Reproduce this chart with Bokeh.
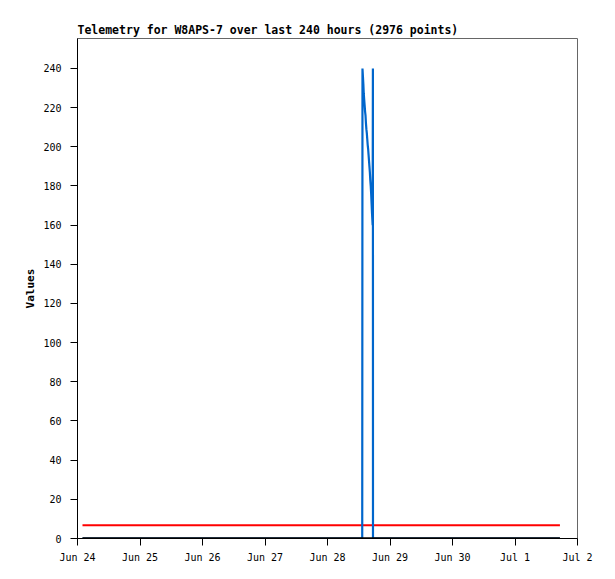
import pandas as pd
from bokeh.plotting import figure
from bokeh.models import Range1d, DaysTicker, DatetimeTickFormatter, SingleIntervalTicker
from bokeh.embed import file_html
from bokeh.resources import INLINE

# ---- data ----
title_text = "Telemetry for W8APS-7 over last 240 hours (2976 points)"
y_label = "Values"

red_times = ["2023-06-24 01:55", "2023-07-01 17:15"]
red_values = [6.8, 6.8]

black_times = ["2023-06-24 01:55", "2023-07-01 17:15"]
black_values = [0, 0]

blue_times = [
    "2023-06-24 01:55", "2023-06-28 13:20", "2023-06-28 13:26", "2023-06-28 13:36",
    "2023-06-28 13:46", "2023-06-28 13:56", "2023-06-28 14:06", "2023-06-28 14:16",
    "2023-06-28 14:26", "2023-06-28 14:36", "2023-06-28 14:46", "2023-06-28 14:56",
    "2023-06-28 15:06", "2023-06-28 15:16", "2023-06-28 15:26", "2023-06-28 15:36",
    "2023-06-28 15:46", "2023-06-28 15:56", "2023-06-28 16:06", "2023-06-28 16:16",
    "2023-06-28 16:26", "2023-06-28 16:36", "2023-06-28 16:46", "2023-06-28 16:56",
    "2023-06-28 17:06", "2023-06-28 17:20", "2023-06-28 17:26", "2023-06-28 17:28",
    "2023-07-01 17:15",
]
blue_values = [
    0, 0, 240, 236,
    232, 227, 224, 221,
    218, 216, 212, 209,
    207, 204, 201, 199,
    196, 193, 190, 187,
    183, 180, 176, 171,
    166, 160, 240, 0,
    0,
]

x_start = "2023-06-24 00:00"
x_end = "2023-07-02 00:00"
y_min, y_max = 0, 255.3

MONO = "DejaVu Sans Mono"

p = figure(
    width=607, height=571,
    x_axis_type="datetime",
    x_range=Range1d(pd.Timestamp(x_start), pd.Timestamp(x_end)),
    y_range=Range1d(y_min, y_max),
    output_backend="svg", toolbar_location=None,
    min_border_left=77, min_border_right=30, min_border_top=38, min_border_bottom=33,
    title=title_text,
)
p.background_fill_color = "white"
p.border_fill_color = "white"
p.outline_line_color = "#666666"
p.outline_line_width = 1
p.grid.visible = False

p.title.text_font = MONO
p.title.text_font_style = "bold"
p.title.text_font_size = "11.5px"
p.title.text_color = "black"
p.title.align = "left"
p.title.offset = 0
p.title.standoff = 3

p.line(pd.to_datetime(red_times), red_values, line_color="#ff0000", line_width=2)
p.line(pd.to_datetime(blue_times), blue_values, line_color="#0066cc", line_width=2.2)
p.line(pd.to_datetime(black_times), black_values, line_color="black", line_width=2.5)

xa = p.xaxis[0]
xa.ticker = DaysTicker(days=list(range(1, 32)))
xa.formatter = DatetimeTickFormatter(days="%b %-d", months="%b %-d", hours="%b %-d")
xa.major_tick_out = 7
xa.major_tick_in = 0
xa.minor_tick_out = 0
xa.minor_tick_in = 0
xa.axis_line_color = "black"
xa.major_tick_line_color = "black"
xa.major_label_text_font = MONO
xa.major_label_text_font_size = "10px"
xa.major_label_text_color = "black"
xa.major_label_standoff = 6

ya = p.yaxis[0]
ya.ticker = SingleIntervalTicker(interval=20, num_minor_ticks=0)
ya.major_tick_out = 7
ya.major_tick_in = 0
ya.minor_tick_out = 0
ya.minor_tick_in = 0
ya.axis_line_color = "black"
ya.major_tick_line_color = "black"
ya.major_label_text_font = MONO
ya.major_label_text_font_size = "10px"
ya.major_label_text_color = "black"
ya.major_label_standoff = 9
ya.axis_label = y_label
ya.axis_label_text_font = MONO
ya.axis_label_text_font_style = "bold"
ya.axis_label_text_font_size = "11px"
ya.axis_label_text_color = "black"
ya.axis_label_standoff = 3

open("out.html", "w").write(file_html(p, INLINE))
